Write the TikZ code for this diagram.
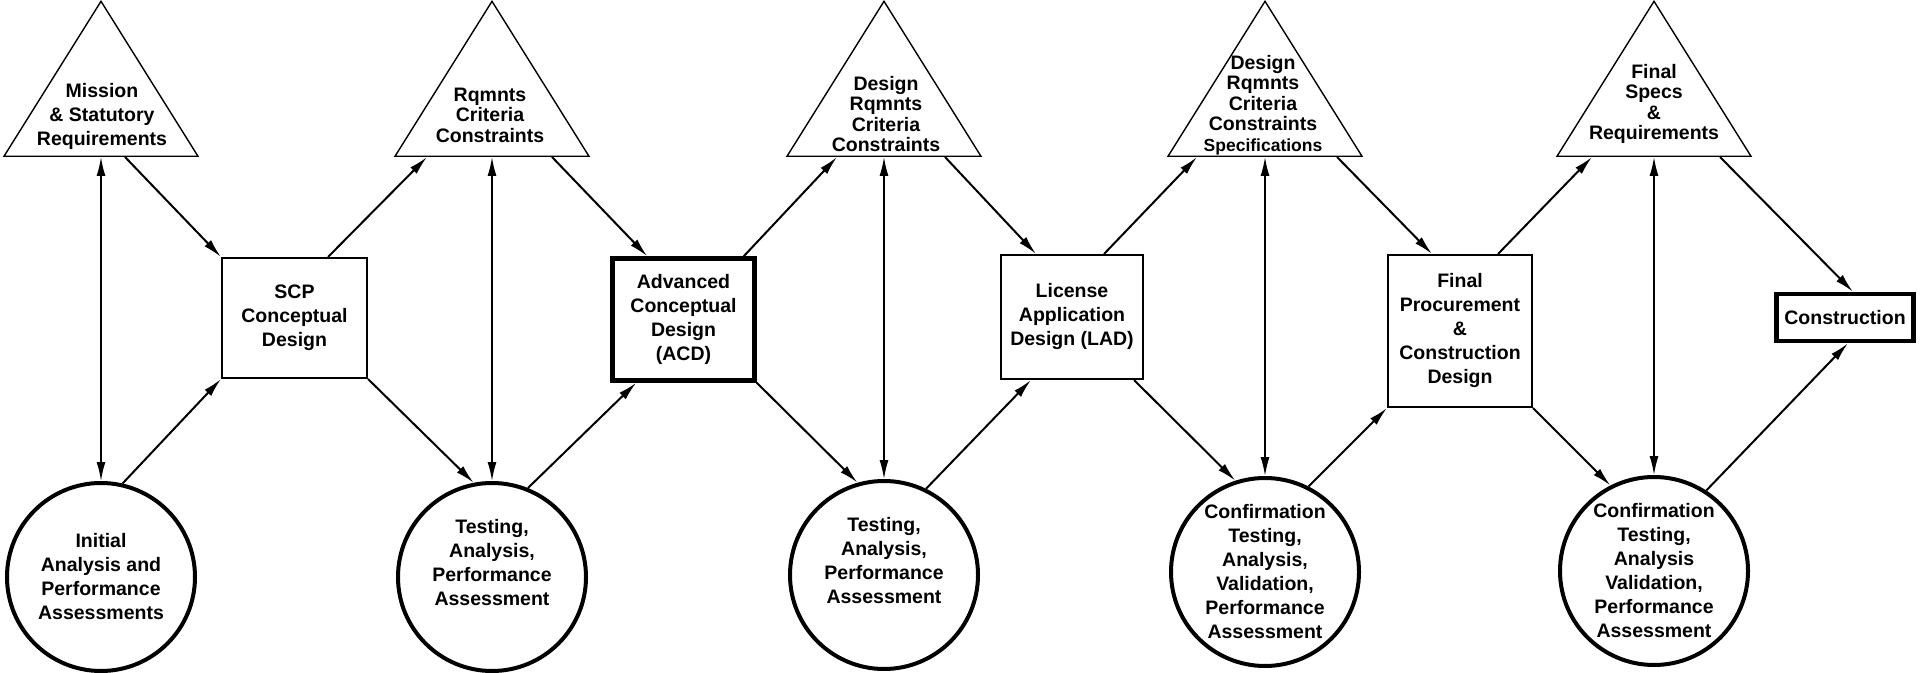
\documentclass[tikz,border=0pt]{standalone}
\usepackage{fontspec}
\setmainfont{Liberation Sans}
\usetikzlibrary{arrows.meta,shapes.geometric,calc}

\begin{document}
\begin{tikzpicture}[x=0.5pt,y=-0.5pt,>={Latex[length=9.5pt,width=4.5pt]},
    font=\bfseries\fontsize{9.75}{12}\selectfont]
    \tikzstyle{req} = [draw,line width=0.7pt,isosceles triangle,shape border rotate=90,
      isosceles triangle stretches,minimum width=97pt,minimum height=77.5pt,
      inner sep=0pt,anchor=lower side]
    \tikzstyle{reqtext} = [align=center,inner sep=0pt,font=\bfseries\fontsize{9.75}{10.25}\selectfont]
    \tikzstyle{design} = [draw,line width=1pt,align=center,inner sep=0pt]
    \tikzstyle{milestone} = [design,line width=2.2pt]
    \tikzstyle{test} = [draw,circle,line width=2pt,minimum size=94pt,inner sep=0pt,align=center]
    \tikzstyle{flow} = [->,line width=1pt]
    \tikzstyle{feedback} = [<->,line width=0.8pt]
    \useasboundingbox (0,0) rectangle (1921,673);
    % requirements
    \node [req] (t1) at (101,157) {};
    \node [req] (t2) at (492,157) {};
    \node [req] (t3) at (884,157) {};
    \node [req] (t4) at (1265,157) {};
    \node [req] (t5) at (1654,157) {};
    \node [reqtext,font=\bfseries\fontsize{9.75}{12}\selectfont] (r1) at (102,116) {Mission\\\& Statutory\\Requirements};
    \node [reqtext] (r2) at (490,115) {Rqmnts\\Criteria\\Constraints};
    \node [reqtext] (r3) at (886,114) {Design\\Rqmnts\\Criteria\\Constraints};
    \node [reqtext] (r4) at (1263,105) {Design\\Rqmnts\\Criteria\\Constraints\\{\fontsize{8.75}{10.25}\selectfont Specifications}};
    \node [reqtext] (r5) at (1654,104) {Final\\Specs\\\&\\Requirements};
    % design stages
    \node [design,minimum width=72.5pt,minimum height=60pt] (b1) at (294.5,318) {SCP\\Conceptual\\Design};
    \node [milestone,minimum width=71pt,minimum height=61pt] (b2) at (683.5,319.5) {Advanced\\Conceptual\\Design\\(ACD)};
    \node [design,minimum width=71pt,minimum height=62pt] (b3) at (1072,317) {License\\Application\\Design (LAD)};
    \node [design,minimum width=72pt,minimum height=76pt] (b4) at (1460,331) {Final\\Procurement\\\&\\Construction\\Design};
    \node [milestone,minimum width=68.5pt,minimum height=23.5pt] (b5) at (1845,317.5) {Construction};
    % testing and assessment
    \node [test] (c1) at (101,577) {Initial\\Analysis and\\Performance\\Assessments};
    \node [test] (c2) at (492,577) {Testing,\\Analysis,\\Performance\\Assessment\\[3pt]};
    \node [test] (c3) at (884,575) {Testing,\\Analysis,\\Performance\\Assessment\\[3pt]};
    \node [test] (c4) at (1265,572) {Confirmation\\Testing,\\Analysis,\\Validation,\\Performance\\Assessment};
    \node [test] (c5) at (1654,571) {Confirmation\\Testing,\\Analysis\\Validation,\\Performance\\Assessment};
    % flow through the stages
    \draw [flow] ($(t1.lower side)+(24,0)$) -- (b1.north west);
    \draw [flow] ($(b1.north east)+(-40,0)$) -- ($(t2.lower side)+(-65,0)$);
    \draw [flow] (c1.77) -- (b1.south west);
    \draw [flow] (b1.south east) -- (c2.101);
    \draw [flow] ($(t2.lower side)+(60,0)$) -- ($(b2.north west)+(37,0)$);
    \draw [flow] (c2.68) -- ($(b2.south west)+(26,0)$);
    \draw [flow] ($(b2.north east)+(-13,0)$) -- ($(t3.lower side)+(-47,0)$);
    \draw [flow] (b2.south east) -- (c3.106);
    \draw [flow] ($(t3.lower side)+(61,0)$) -- ($(b3.north west)+(36,0)$);
    \draw [flow] (c3.64) -- ($(b3.south west)+(31,0)$);
    \draw [flow] ($(b3.north east)+(-40,0)$) -- ($(t4.lower side)+(-68,0)$);
    \draw [flow] ($(b3.south east)+(-10,0)$) -- (c4.108);
    \draw [flow] ($(t4.lower side)+(72,0)$) -- ($(b4.north west)+(45,0)$);
    \draw [flow] (c4.63) -- (b4.south west);
    \draw [flow] ($(b4.north east)+(-35,0)$) -- ($(t5.lower side)+(-62,0)$);
    \draw [flow] (b4.south east) -- (c5.117);
    \draw [flow] ($(t5.lower side)+(66,0)$) -- ($(b5.north)+(8,0)$);
    \draw [flow] (c5.57) -- ($(b5.south)+(3,0)$);
    % feedback between requirements and assessments
    \draw [feedback] (t1.lower side) -- (c1.north);
    \draw [feedback] (t2.lower side) -- (c2.north);
    \draw [feedback] (t3.lower side) -- (c3.north);
    \draw [feedback] (t4.lower side) -- (c4.north);
    \draw [feedback] (t5.lower side) -- (c5.north);
\end{tikzpicture}
\end{document}
